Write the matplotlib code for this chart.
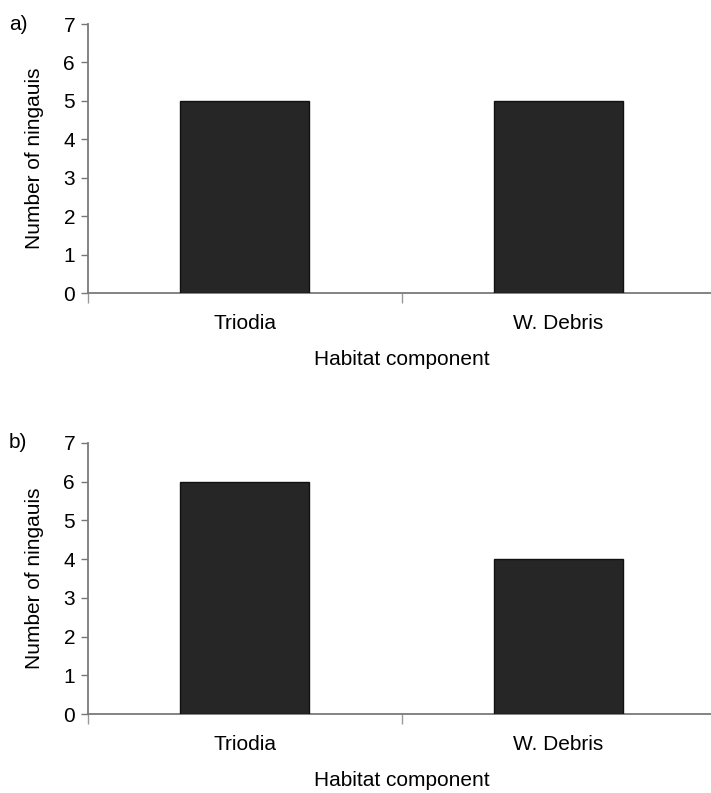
import matplotlib.pyplot as plt
from matplotlib.ticker import FixedLocator

plt.rcParams['font.family'] = ['Liberation Sans', 'DejaVu Sans']
plt.rcParams['font.size'] = 15

habitats = ['Triodia', 'W. Debris']
counts_a = [5, 5]
counts_b = [6, 4]
panel_labels = ['a)', 'b)']

fig = plt.figure(figsize=(7.11, 7.93), dpi=100)

# axes boxes (left, bottom, width, height) in figure fraction
boxes = [(0.1231, 0.6305, 0.8833, 0.3392),
         (0.1231, 0.0996, 0.8833, 0.3418)]

for box, counts, tag in zip(boxes, [counts_a, counts_b], panel_labels):
    ax = fig.add_axes(box)
    x = range(len(habitats))
    ax.bar(x, counts, width=0.41, color='#262626', edgecolor='#111111',
           linewidth=1.0, zorder=3)
    ax.set_xlim(-0.5, 1.5)
    ax.set_ylim(0, 7)
    ax.set_yticks(range(0, 8))

    ax.set_xticks(list(x))
    ax.set_xticklabels(habitats)
    ax.xaxis.set_minor_locator(FixedLocator([-0.5, 0.5, 1.5]))
    ax.tick_params(axis='x', which='major', length=0, pad=15)
    ax.tick_params(axis='x', which='minor', length=7, width=1.0,
                   color='#999999', direction='out')
    ax.tick_params(axis='y', length=5, width=1.0, color='#777777',
                   direction='out', pad=4)

    for side in ['top', 'right']:
        ax.spines[side].set_visible(False)
    for side in ['left', 'bottom']:
        ax.spines[side].set_color('#7a7a7a')
        ax.spines[side].set_linewidth(1.3)

    ax.set_xlabel('Habitat component', labelpad=12)
    ax.set_ylabel('Number of ningauis', labelpad=10)
    ax.yaxis.set_label_coords(-0.07, 0.5)

    ax.text(-0.125, 1.0, tag, transform=ax.transAxes, ha='left',
            va='center', fontsize=15)

fig.savefig('out.png', dpi=100)
